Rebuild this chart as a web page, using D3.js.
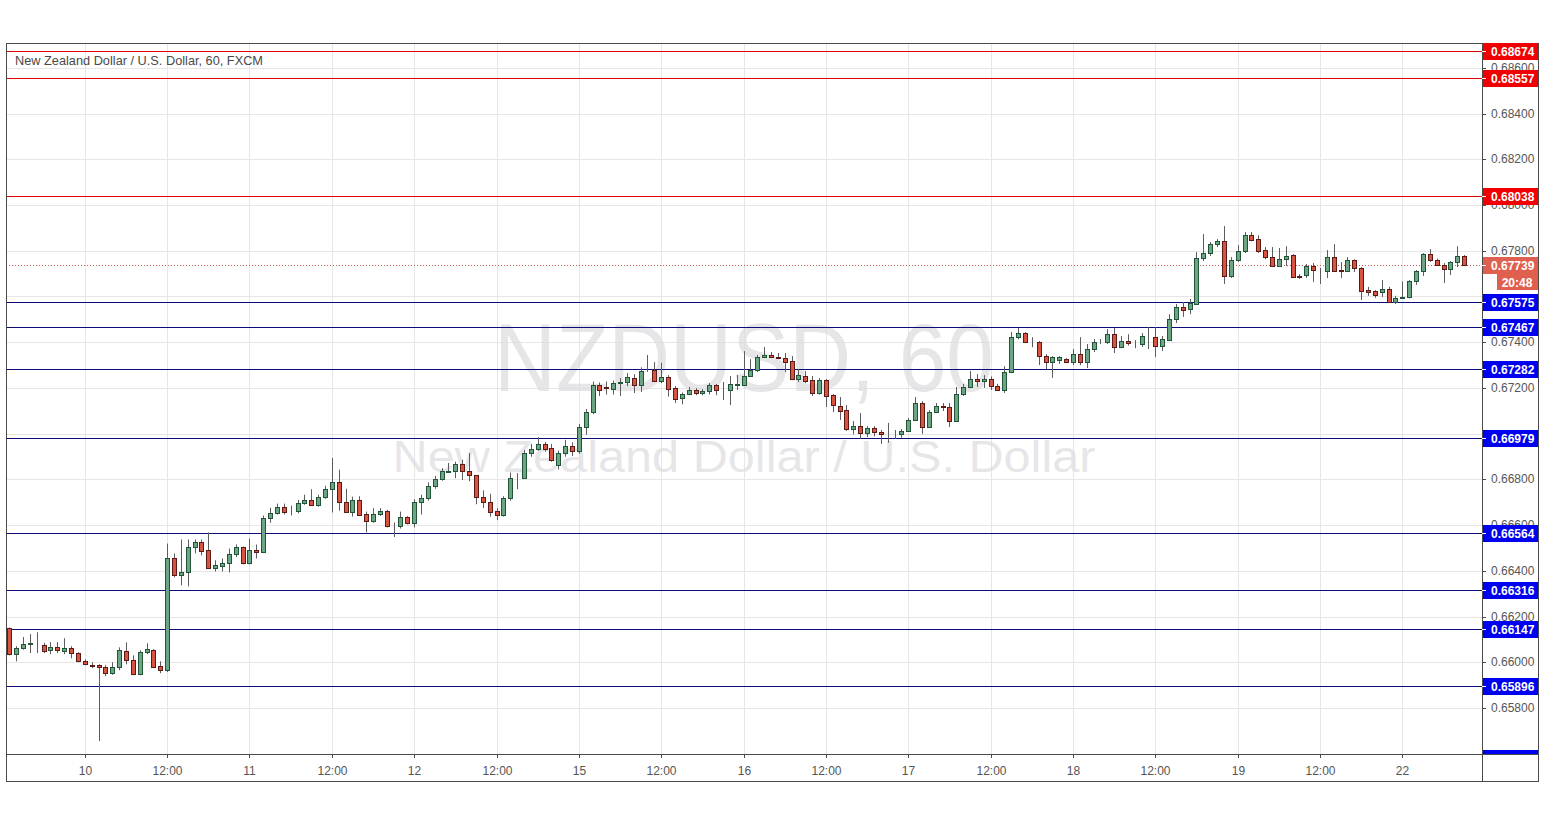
<!DOCTYPE html>
<html><head><meta charset="utf-8">
<script src="https://cdn.jsdelivr.net/npm/d3@7"></script>
<style>body{margin:0;background:#fff;} svg{display:block;font-family:"Liberation Sans",Arial,sans-serif;}</style>
</head><body><svg id="c" width="1545" height="819"></svg>
<script>
// ---- DATA (NZD/USD, 60 min, FXCM) ----
const opens=[0.66150,0.66035,0.66061,0.66079,0.66080,0.66075,0.66052,0.66066,0.66048,0.66061,0.66039,0.66004,0.65990,0.65987,0.65978,0.65952,0.65978,0.66048,0.66009,0.65948,0.66044,0.66052,0.65983,0.65965,
0.66454,0.66380,0.66393,0.66502,0.66528,0.66490,0.66412,0.66419,0.66432,0.66472,0.66502,0.66432,0.66493,0.66484,0.66629,0.66655,0.66681,0.66661,0.66663,0.66698,0.66711,0.66689,0.66724,0.66759,
0.66789,0.66702,0.66659,0.66711,0.66648,0.66616,0.66648,0.66663,0.66598,0.66596,0.66635,0.66607,0.66702,0.66719,0.66772,0.66801,0.66833,0.66837,0.66867,0.66837,0.66818,0.66725,0.66699,0.66663,
0.66646,0.66720,0.66805,0.66808,0.66915,0.66933,0.66953,0.66938,0.66862,0.66915,0.66945,0.66923,0.67028,0.67094,0.67213,0.67204,0.67195,0.67221,0.67226,0.67245,0.67213,0.67273,0.67278,0.67229,
0.67247,0.67199,0.67155,0.67173,0.67191,0.67176,0.67187,0.67213,0.67193,0.67191,0.67213,0.67213,0.67252,0.67278,0.67335,0.67344,0.67335,0.67331,0.67317,0.67238,0.67252,0.67234,0.67178,0.67234,
0.67168,0.67121,0.67103,0.67020,0.67033,0.67003,0.67025,0.67007,0.67003,0.67001,0.66999,0.67012,0.67060,0.67134,0.67029,0.67095,0.67121,0.67117,0.67055,0.67173,0.67204,0.67239,0.67230,0.67239,
0.67208,0.67191,0.67269,0.67422,0.67440,0.67401,0.67400,0.67339,0.67313,0.67322,0.67326,0.67313,0.67348,0.67313,0.67370,0.67399,0.67401,0.67436,0.67379,0.67405,0.67397,0.67392,0.67427,0.67423,
0.67383,0.67409,0.67501,0.67554,0.67545,0.67567,0.67768,0.67790,0.67829,0.67842,0.67690,0.67759,0.67798,0.67868,0.67851,0.67803,0.67772,0.67733,0.67763,0.67781,0.67688,0.67694,0.67733,0.67716,
0.67712,0.67772,0.67714,0.67712,0.67759,0.67725,0.67628,0.67624,0.67620,0.67633,0.67576,0.67594,0.67598,0.67666,0.67712,0.67786,0.67759,0.67737,0.67720,0.67750,0.67777];
const highs=[0.66152,0.66070,0.66110,0.66123,0.66131,0.66085,0.66088,0.66088,0.66105,0.66070,0.66044,0.66013,0.66000,0.65991,0.65987,0.66000,0.66065,0.66087,0.66030,0.66052,0.66083,0.66057,0.66004,0.66519,
0.66476,0.66537,0.66537,0.66537,0.66537,0.66568,0.66446,0.66454,0.66497,0.66515,0.66506,0.66541,0.66515,0.66642,0.66676,0.66694,0.66694,0.66685,0.66710,0.66733,0.66757,0.66733,0.66772,0.66894,
0.66842,0.66759,0.66724,0.66726,0.66659,0.66674,0.66674,0.66667,0.66611,0.66659,0.66639,0.66713,0.66733,0.66787,0.66815,0.66849,0.66872,0.66877,0.66886,0.66915,0.66818,0.66752,0.66737,0.66674,
0.66726,0.66830,0.66827,0.66928,0.66955,0.66984,0.66964,0.66955,0.66926,0.66973,0.66962,0.67042,0.67108,0.67228,0.67224,0.67228,0.67232,0.67243,0.67265,0.67260,0.67290,0.67344,0.67313,0.67310,
0.67256,0.67208,0.67180,0.67204,0.67199,0.67195,0.67221,0.67217,0.67226,0.67252,0.67256,0.67361,0.67326,0.67344,0.67379,0.67357,0.67353,0.67353,0.67339,0.67282,0.67274,0.67252,0.67243,0.67239,
0.67173,0.67160,0.67125,0.67055,0.67090,0.67033,0.67033,0.67016,0.67047,0.67016,0.67020,0.67068,0.67160,0.67142,0.67103,0.67134,0.67134,0.67134,0.67204,0.67217,0.67274,0.67260,0.67256,0.67250,
0.67218,0.67295,0.67444,0.67462,0.67444,0.67422,0.67405,0.67348,0.67339,0.67339,0.67330,0.67370,0.67422,0.67392,0.67414,0.67414,0.67457,0.67462,0.67427,0.67435,0.67409,0.67440,0.67466,0.67466,
0.67427,0.67522,0.67567,0.67576,0.67589,0.67794,0.67873,0.67838,0.67851,0.67908,0.67772,0.67825,0.67882,0.67882,0.67868,0.67816,0.67816,0.67812,0.67820,0.67785,0.67698,0.67742,0.67746,0.67725,
0.67803,0.67829,0.67750,0.67772,0.67763,0.67729,0.67642,0.67628,0.67672,0.67642,0.67603,0.67666,0.67672,0.67716,0.67790,0.67807,0.67766,0.67746,0.67755,0.67820,0.67781];
const lows=[0.66030,0.66004,0.66055,0.66040,0.66040,0.66040,0.66035,0.66040,0.66035,0.66017,0.66000,0.65987,0.65974,0.65655,0.65939,0.65945,0.65965,0.65991,0.65943,0.65943,0.66035,0.65974,0.65952,0.65957,
0.66371,0.66336,0.66332,0.66476,0.66467,0.66412,0.66397,0.66397,0.66393,0.66460,0.66428,0.66428,0.66454,0.66484,0.66610,0.66646,0.66646,0.66642,0.66651,0.66689,0.66689,0.66680,0.66715,0.66655,
0.66663,0.66655,0.66637,0.66646,0.66568,0.66610,0.66640,0.66590,0.66548,0.66585,0.66603,0.66590,0.66646,0.66707,0.66759,0.66794,0.66829,0.66805,0.66797,0.66792,0.66691,0.66675,0.66637,0.66622,
0.66637,0.66707,0.66757,0.66805,0.66899,0.66925,0.66921,0.66877,0.66843,0.66899,0.66902,0.66912,0.66995,0.67085,0.67165,0.67171,0.67171,0.67165,0.67208,0.67178,0.67182,0.67270,0.67226,0.67221,
0.67162,0.67134,0.67128,0.67168,0.67168,0.67168,0.67171,0.67168,0.67147,0.67125,0.67191,0.67208,0.67252,0.67269,0.67331,0.67331,0.67326,0.67269,0.67234,0.67226,0.67221,0.67165,0.67171,0.67117,
0.67094,0.67060,0.67012,0.66997,0.66977,0.66985,0.66988,0.66955,0.66960,0.66977,0.66982,0.67007,0.67055,0.66999,0.67025,0.67090,0.67099,0.67029,0.67051,0.67165,0.67200,0.67204,0.67200,0.67191,
0.67187,0.67178,0.67265,0.67413,0.67396,0.67378,0.67300,0.67282,0.67244,0.67305,0.67310,0.67300,0.67300,0.67287,0.67357,0.67392,0.67392,0.67353,0.67374,0.67385,0.67374,0.67379,0.67370,0.67335,
0.67361,0.67405,0.67484,0.67511,0.67523,0.67563,0.67755,0.67777,0.67816,0.67655,0.67681,0.67751,0.67790,0.67842,0.67790,0.67763,0.67733,0.67729,0.67733,0.67681,0.67677,0.67681,0.67664,0.67655,
0.67681,0.67712,0.67681,0.67707,0.67707,0.67585,0.67603,0.67594,0.67598,0.67572,0.67567,0.67592,0.67592,0.67651,0.67690,0.67751,0.67733,0.67659,0.67694,0.67729,0.67733];
const closes=[0.66035,0.66061,0.66079,0.66083,0.66080,0.66048,0.66066,0.66052,0.66061,0.66039,0.66004,0.65991,0.65983,0.65978,0.65952,0.65978,0.66052,0.66009,0.65948,0.66044,0.66057,0.65978,0.65965,0.66458,
0.66380,0.66393,0.66502,0.66528,0.66485,0.66412,0.66424,0.66432,0.66472,0.66502,0.66432,0.66493,0.66484,0.66629,0.66655,0.66681,0.66659,0.66663,0.66698,0.66711,0.66689,0.66724,0.66759,0.66789,
0.66702,0.66659,0.66711,0.66646,0.66616,0.66648,0.66663,0.66598,0.66596,0.66635,0.66607,0.66702,0.66719,0.66772,0.66801,0.66837,0.66837,0.66867,0.66837,0.66818,0.66725,0.66699,0.66659,0.66646,
0.66720,0.66805,0.66808,0.66915,0.66933,0.66953,0.66933,0.66885,0.66915,0.66945,0.66923,0.67028,0.67094,0.67213,0.67191,0.67200,0.67221,0.67226,0.67247,0.67213,0.67274,0.67276,0.67229,0.67247,
0.67195,0.67151,0.67173,0.67191,0.67176,0.67187,0.67213,0.67191,0.67191,0.67217,0.67215,0.67252,0.67278,0.67335,0.67344,0.67335,0.67331,0.67313,0.67238,0.67256,0.67229,0.67178,0.67234,0.67165,
0.67125,0.67099,0.67020,0.67033,0.67003,0.67025,0.67007,0.67000,0.67001,0.67003,0.67012,0.67060,0.67134,0.67029,0.67095,0.67121,0.67116,0.67055,0.67173,0.67204,0.67239,0.67230,0.67239,0.67208,
0.67191,0.67269,0.67422,0.67440,0.67400,0.67399,0.67339,0.67313,0.67335,0.67335,0.67313,0.67348,0.67313,0.67370,0.67401,0.67401,0.67436,0.67379,0.67405,0.67396,0.67395,0.67427,0.67428,0.67383,
0.67414,0.67501,0.67554,0.67541,0.67571,0.67768,0.67790,0.67829,0.67842,0.67690,0.67759,0.67798,0.67868,0.67847,0.67798,0.67772,0.67733,0.67763,0.67777,0.67685,0.67685,0.67733,0.67716,0.67714,
0.67772,0.67712,0.67712,0.67759,0.67725,0.67624,0.67620,0.67606,0.67633,0.67576,0.67594,0.67596,0.67666,0.67712,0.67786,0.67759,0.67737,0.67720,0.67750,0.67777,0.67739];
const xTickLabels=["10","12:00","11","12:00","12","12:00","15","12:00","16","12:00","17","12:00","18","12:00","19","12:00","22"];
const xTickBars=[11,23,35,47,59,71,83,95,107,119,131,143,155,167,179,191,203];
const yTicks=[0.656,0.658,0.660,0.662,0.664,0.666,0.668,0.670,0.672,0.674,0.676,0.678,0.680,0.682,0.684,0.686];
const resistanceLevels=[0.68674,0.68557,0.68038];
const supportLevels=[0.67575,0.67467,0.67282,0.66979,0.66564,0.66316,0.66147,0.65896,0.65580];
const lastPrice=0.67739;
const countdown="20:48";
const titleText="New Zealand Dollar / U.S. Dollar, 60, FXCM";
const watermark1="NZDUSD, 60";
const watermark2="New Zealand Dollar / U.S. Dollar";

// ---- LAYOUT ----
const L=6,R=1482,T=43,B=754,FR=1538,FB=781;
const svg=d3.select("#c");
const x=d3.scaleLinear().domain([0,212]).range([9.3,1464.1]);
const y=d3.scaleLinear().domain([0.655985,0.68709]).range([B,T]);

svg.append("defs").append("clipPath").attr("id","plot").append("rect").attr("x",L).attr("y",T).attr("width",R-L).attr("height",B-T);
svg.select("defs").append("clipPath").attr("id","axis").append("rect").attr("x",R).attr("y",T).attr("width",FR-R).attr("height",B-T);

const plot=svg.append("g").attr("clip-path","url(#plot)");
// grid
plot.selectAll(".vg").data(xTickBars).join("line")
 .attr("x1",d=>Math.round(x(d))+0.5).attr("x2",d=>Math.round(x(d))+0.5).attr("y1",T).attr("y2",B)
 .attr("stroke","#e6e6e6");
plot.selectAll(".hg").data(yTicks).join("line")
 .attr("y1",d=>Math.round(y(d))+0.5).attr("y2",d=>Math.round(y(d))+0.5).attr("x1",L).attr("x2",R)
 .attr("stroke","#e6e6e6");
// watermark
plot.append("text").attr("x",744).attr("y",391).attr("text-anchor","middle")
 .attr("font-size",96).attr("textLength",500).attr("lengthAdjust","spacingAndGlyphs")
 .attr("fill","#dcdce0").attr("fill-opacity",0.7).text(watermark1);
plot.append("text").attr("x",744).attr("y",472).attr("text-anchor","middle")
 .attr("font-size",44).attr("textLength",703).attr("lengthAdjust","spacingAndGlyphs")
 .attr("fill","#dcdce0").attr("fill-opacity",0.7).text(watermark2);

// level lines
plot.selectAll(".rl").data(resistanceLevels).join("line")
 .attr("x1",L).attr("x2",R).attr("y1",d=>Math.round(y(d))+0.5).attr("y2",d=>Math.round(y(d))+0.5)
 .attr("stroke","#e00000").attr("stroke-width",1);
plot.selectAll(".sl").data(supportLevels).join("line")
 .attr("x1",L).attr("x2",R).attr("y1",d=>Math.round(y(d))+0.5).attr("y2",d=>Math.round(y(d))+0.5)
 .attr("stroke","#0c0c78").attr("stroke-width",1);
// last price dotted
plot.append("line").attr("x1",L).attr("x2",R).attr("y1",Math.round(y(lastPrice))+0.5).attr("y2",Math.round(y(lastPrice))+0.5)
 .attr("stroke","#d0584a").attr("stroke-dasharray","1,2");

// candles
const bars=d3.range(opens.length);
const cg=plot.append("g");
bars.forEach(i=>{
  const cx=Math.round(x(i));
  const up=closes[i]>=opens[i];
  cg.append("line").attr("x1",cx+0.5).attr("x2",cx+0.5)
   .attr("y1",y(highs[i])).attr("y2",y(lows[i])).attr("stroke","#5d5d60").attr("stroke-width",1);
  const top=Math.round(y(Math.max(opens[i],closes[i])))+0.5;
  const bot=Math.round(y(Math.min(opens[i],closes[i])))+0.5;
  cg.append("rect").attr("x",cx-2+0.5).attr("width",4).attr("y",top).attr("height",Math.max(0,bot-top))
   .attr("fill",up?"#6ba583":"#d75442").attr("stroke",up?"#225437":"#5b1a13").attr("stroke-width",1);
});

// frame
svg.append("rect").attr("x",L+0.5).attr("y",T+0.5).attr("width",FR-L).attr("height",FB-T)
 .attr("fill","none").attr("stroke","#4a4a4a");
svg.append("line").attr("x1",R+0.5).attr("x2",R+0.5).attr("y1",T).attr("y2",FB).attr("stroke","#4a4a4a");
svg.append("line").attr("x1",L).attr("x2",FR).attr("y1",B+0.5).attr("y2",B+0.5).attr("stroke","#4a4a4a");

// title
svg.append("text").attr("x",15).attr("y",65).attr("font-size",13).attr("fill","#4a4a4a")
 .attr("textLength",248).attr("lengthAdjust","spacingAndGlyphs").text(titleText);

// right axis
const allLevels=resistanceLevels.concat(supportLevels).concat([lastPrice]);
const ax=svg.append("g").attr("clip-path","url(#axis)");
ax.selectAll(".yt").data(yTicks).join("line")
 .attr("x1",R).attr("x2",R+4).attr("y1",d=>Math.round(y(d))+0.5).attr("y2",d=>Math.round(y(d))+0.5).attr("stroke","#4a4a4a");
// tick labels that would be fully hidden behind a level tag are not drawn
const visibleTicks=yTicks.filter(t=>allLevels.every(v=>Math.abs(y(t)-y(v))>=7));
ax.selectAll(".yl").data(visibleTicks).join("text")
 .attr("x",R+9).attr("y",d=>y(d)+4).attr("font-size",12).attr("fill","#555").text(d=>d.toFixed(5));
function tag(v,bg,w){
  const cy=Math.round(y(v));
  ax.append("rect").attr("x",R+1).attr("y",cy-8).attr("width",w||FR-R-1).attr("height",17).attr("fill",bg);
  ax.append("line").attr("x1",R).attr("x2",R+4).attr("y1",cy+0.5).attr("y2",cy+0.5).attr("stroke","#fff");
}
resistanceLevels.forEach(v=>tag(v,"#f00000"));
supportLevels.forEach(v=>tag(v,"#0000f0"));
tag(lastPrice,"#e0604f");
ax.selectAll(".lt").data(allLevels).join("text")
 .attr("x",R+9).attr("y",d=>Math.round(y(d))+4.5).attr("font-size",12).attr("font-weight","bold").attr("fill","#fff").text(d=>d.toFixed(5));
const cy=Math.round(y(lastPrice));
ax.append("rect").attr("x",1497).attr("y",cy+9).attr("width",FR-1497).attr("height",16).attr("fill","#e0604f");
ax.append("text").attr("x",1517).attr("y",cy+21.5).attr("text-anchor","middle").attr("font-size",12).attr("font-weight","bold").attr("fill","#fff").text(countdown);

// bottom axis
svg.selectAll(".xt").data(xTickBars).join("line")
 .attr("x1",d=>Math.round(x(d))+0.5).attr("x2",d=>Math.round(x(d))+0.5).attr("y1",B).attr("y2",B+4).attr("stroke","#4a4a4a");
svg.selectAll(".xl").data(xTickBars).join("text")
 .attr("x",d=>Math.round(x(d))+0.5).attr("y",775).attr("text-anchor","middle").attr("font-size",12).attr("fill","#555")
 .text((d,i)=>xTickLabels[i]);
</script></body></html>
